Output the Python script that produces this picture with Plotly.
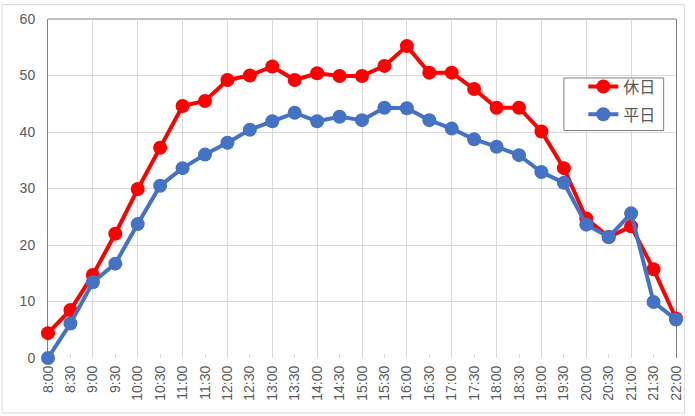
import plotly.graph_objects as go

times = ["8:00", "8:30", "9:00", "9:30", "10:00", "10:30", "11:00", "11:30",
         "12:00", "12:30", "13:00", "13:30", "14:00", "14:30", "15:00", "15:30",
         "16:00", "16:30", "17:00", "17:30", "18:00", "18:30", "19:00", "19:30",
         "20:00", "20:30", "21:00", "21:30", "22:00"]
holiday = [4.4, 8.5, 14.7, 22.0, 29.9, 37.2, 44.6, 45.5, 49.2, 50.0, 51.6, 49.2,
           50.4, 49.9, 49.9, 51.7, 55.2, 50.5, 50.5, 47.6, 44.3, 44.3, 40.1, 33.6,
           24.7, 21.4, 23.3, 15.7, 7.0]
weekday = [0.0, 6.1, 13.4, 16.7, 23.7, 30.5, 33.6, 36.0, 38.1, 40.4, 41.9, 43.4,
           41.9, 42.7, 42.1, 44.3, 44.2, 42.1, 40.6, 38.7, 37.4, 35.9, 32.9, 31.0,
           23.6, 21.4, 25.6, 9.9, 6.8]
y_ticks = [0, 10, 20, 30, 40, 50, 60]

idx = list(range(len(times)))
TXT = "#595959"
GRID = "#d9d9d9"
BORDER = "#808080"
FONT = "Liberation Sans, Arial, sans-serif"

fig = go.Figure()
fig.add_trace(go.Scatter(x=idx, y=holiday, name="休日", mode="lines+markers",
                         legendgroup="a",
                         line=dict(color="#FF0000", width=4),
                         marker=dict(color="#FF0000", size=14), cliponaxis=False))
fig.add_trace(go.Scatter(x=idx, y=weekday, name="平日", mode="lines+markers",
                         legendgroup="b",
                         line=dict(color="#4472C4", width=4),
                         marker=dict(color="#4472C4", size=14), cliponaxis=False))

W, H = 695, 416
L, R, T, B = 48, 11, 16, 58
pw, ph = W - L - R, H - T - B


def px_x(v):
    return (v - L) / pw


def px_y(v):
    return (H - B - v) / ph


fig.update_layout(
    width=W, height=H,
    margin=dict(l=L, r=R, t=T, b=B),
    paper_bgcolor="white", plot_bgcolor="white",
    font=dict(family=FONT, color=TXT, size=13),
    showlegend=True,
    legend=dict(x=px_x(578), y=px_y(67), xanchor="left", yanchor="top",
                borderwidth=0, bgcolor="rgba(0,0,0,0)",
                font=dict(size=16, color=TXT, family="Noto Sans CJK JP"),
                itemwidth=30, tracegroupgap=4, indentation=12),
    xaxis=dict(range=[0, len(times) - 1], tickmode="array", tickvals=idx, ticktext=times,
               tickangle=-90, showgrid=False, zeroline=False, showline=False,
               ticks="inside", ticklen=4, tickcolor=GRID, tickwidth=1,
               ticklabelstandoff=4,
               tickfont=dict(size=14, color=TXT),
               minor=dict(tickmode="linear", tick0=0, dtick=2, showgrid=True,
                          gridcolor=GRID, gridwidth=1, ticks=""),
               layer="below traces", fixedrange=True),
    yaxis=dict(range=[0, 60], tickmode="array", tickvals=y_ticks,
               showgrid=True, gridcolor=GRID, gridwidth=1, zeroline=False,
               showline=True, mirror=True, linecolor=BORDER, linewidth=1,
               ticks="", ticklabelstandoff=9, tickfont=dict(size=14, color=TXT),
               layer="below traces", fixedrange=True),
    shapes=[
        dict(type="line", xref="paper", yref="paper", x0=0, x1=1, y0=1, y1=1,
             line=dict(color=BORDER, width=1), layer="below"),
        dict(type="rect", xref="paper", yref="paper",
             x0=px_x(1.5), x1=px_x(W - 2.5), y0=px_y(H - 2.5), y1=px_y(1.5),
             line=dict(color=GRID, width=1), layer="below"),
        dict(type="rect", xref="paper", yref="paper",
             x0=px_x(570.5), x1=px_x(671.5), y0=px_y(128.5), y1=px_y(75.5),
             line=dict(color=BORDER, width=1), fillcolor="white", layer="above"),
    ],
)

fig.write_html("out.html")
